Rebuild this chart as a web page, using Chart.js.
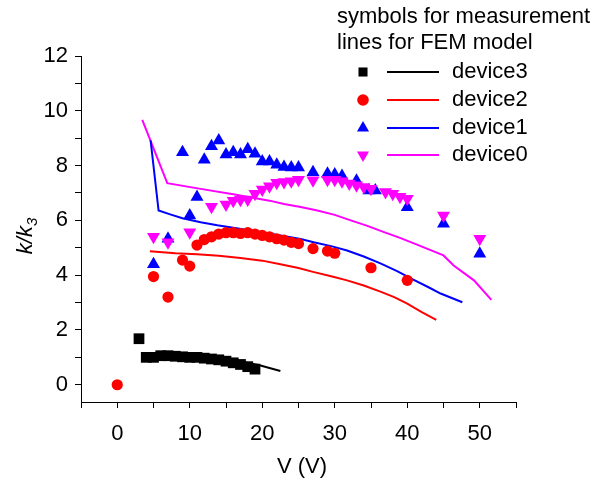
<!DOCTYPE html>
<html>
<head>
<meta charset="utf-8">
<script src="https://cdn.jsdelivr.net/npm/chart.js@4/dist/chart.umd.min.js"></script>
<style>
	html, body { margin: 0; padding: 0; background: #fff; }
	#wrap { width: 600px; height: 482px; }
</style>
</head>
<body>
<div id="wrap"><canvas id="kChart" width="600" height="482"></canvas></div>
<script>
	'use strict'

	// measurement (symbols)
	const device3MeasV = [3, 4, 5, 6, 7, 8, 9, 10, 11, 12, 13, 14, 15, 16, 17, 18, 19];
	const device3MeasK = [1.68, 1.0, 1.0, 1.06, 1.06, 1.04, 1.02, 1.0, 1.0, 0.97, 0.94, 0.91, 0.86, 0.8, 0.74, 0.66, 0.57];

	const device2MeasV = [0, 5, 7, 9, 10, 11, 12, 13, 14, 15, 16, 17, 18, 19, 20, 21, 22, 23, 24, 25, 27, 29, 30, 35, 40];
	const device2MeasK = [0, 3.95, 3.2, 4.55, 4.33, 5.1, 5.3, 5.4, 5.5, 5.55, 5.55, 5.52, 5.55, 5.5, 5.45, 5.4, 5.33, 5.28, 5.2, 5.15, 4.97, 4.88, 4.8, 4.27, 3.81];

	const device1MeasV = [5, 7, 9, 10, 11, 12, 13, 14, 15, 16, 17, 18, 19, 20, 21, 22, 23, 24, 25, 27, 29, 30, 31, 33, 34.7, 35.6, 40, 45, 50];
	const device1MeasK = [4.4, 5.33, 8.49, 6.18, 6.85, 8.21, 8.71, 8.92, 8.4, 8.49, 8.4, 8.6, 8.43, 8.15, 8.15, 8.03, 7.95, 7.93, 7.93, 7.76, 7.7, 7.67, 7.62, 7.45, 7.09, 7.09, 6.48, 5.88, 4.78];

	const device0MeasV = [5, 7, 10, 13, 15, 16, 17, 18, 19, 20, 21, 22, 23, 24, 25, 27, 29, 30, 31, 32, 33, 34, 35, 37, 38, 39, 40, 45, 50];
	const device0MeasK = [5.4, 5.2, 5.57, 6.5, 6.58, 6.72, 6.75, 6.76, 6.97, 7.13, 7.25, 7.37, 7.4, 7.43, 7.48, 7.46, 7.48, 7.48, 7.43, 7.35, 7.28, 7.22, 7.15, 7.04, 6.97, 6.86, 6.79, 6.18, 5.33];

	// FEM model (lines)
	const device3FemV = [5, 8, 11, 14, 17, 19.5, 22.5];
	const device3FemK = [1.0, 1.05, 1.02, 0.95, 0.85, 0.72, 0.5];

	const device2FemV = [4.5, 8, 11, 14, 17, 20, 22.5, 25, 27, 29.5, 31.7, 34, 36.3, 38.2, 40, 42, 44];
	const device2FemK = [4.87, 4.8, 4.76, 4.71, 4.63, 4.53, 4.4, 4.26, 4.12, 3.96, 3.81, 3.62, 3.4, 3.2, 2.96, 2.65, 2.37];

	const device1FemV = [4.6, 5.7, 7.3, 9, 11.5, 13.8, 18.4, 22.5, 25.3, 27.1, 29.5, 31.7, 34, 36.3, 38.6, 40.9, 43, 44.6, 47.6];
	const device1FemK = [8.92, 6.36, 6.22, 6.08, 5.93, 5.82, 5.63, 5.45, 5.32, 5.2, 5.06, 4.9, 4.68, 4.43, 4.15, 3.83, 3.55, 3.33, 3.01];

	const device0FemV = [3.45, 6.9, 11.5, 16, 21, 23, 25.3, 27.6, 30, 32.2, 34.5, 36.8, 39, 41, 45, 46.4, 49.2, 51.6];
	const device0FemK = [9.67, 7.36, 7.15, 6.95, 6.72, 6.6, 6.49, 6.36, 6.2, 6.0, 5.8, 5.57, 5.36, 5.15, 4.72, 4.35, 3.81, 3.1];

	const xTickLabels = [0, 10, 20, 30, 40, 50];
	const yTickLabels = [0, 2, 4, 6, 8, 10, 12];

	const legendTitles = ['symbols for measurement', 'lines for FEM model'];
	const legendNames = ['device3', 'device2', 'device1', 'device0'];
	const deviceColors = ['#000000', '#ff0000', '#0000ff', '#ff00ff'];
	const deviceStyles = ['rect', 'circle', 'triangle', 'triangle'];
	const deviceRotations = [0, 0, 0, 180];

	const fontFamily = '"Liberation Sans", Arial, Helvetica, sans-serif';

	function toPoints(xs, ys) {
		return xs.map((x, i) => ({ x: x, y: ys[i] }));
	}

	const measSets = [
		toPoints(device3MeasV, device3MeasK),
		toPoints(device2MeasV, device2MeasK),
		toPoints(device1MeasV, device1MeasK),
		toPoints(device0MeasV, device0MeasK)
	];
	const femSets = [
		toPoints(device3FemV, device3FemK),
		toPoints(device2FemV, device2FemK),
		toPoints(device1FemV, device1FemK),
		toPoints(device0FemV, device0FemK)
	];
	const markerRadius = [7.6, 5.6, 7.5, 7.5];

	const datasets = [];
	femSets.forEach((points, i) => {
		datasets.push({
			label: legendNames[i] + ' FEM',
			data: points,
			showLine: true,
			borderColor: deviceColors[i],
			borderWidth: 2,
			pointRadius: 0,
			tension: 0,
			order: 10 + i
		});
	});
	measSets.forEach((points, i) => {
		datasets.push({
			label: legendNames[i],
			data: points,
			showLine: false,
			pointStyle: deviceStyles[i],
			rotation: deviceRotations[i],
			pointRadius: markerRadius[i],
			pointBackgroundColor: deviceColors[i],
			pointBorderColor: deviceColors[i],
			pointBorderWidth: 0,
			order: 3 - i
		});
	});

	const decorPlugin = {
		id: 'decor',
		afterDraw(chart) {
			const ctx = chart.ctx;
			ctx.save();
			ctx.fillStyle = '#000';

			// x title
			ctx.font = '22px ' + fontFamily;
			ctx.textAlign = 'center';
			ctx.textBaseline = 'middle';
			ctx.fillText('V (V)', 302, 467);

			// y title k/k3 (rotated, subscript)
			ctx.save();
			ctx.translate(24, 236);
			ctx.rotate(-Math.PI / 2);
			ctx.font = 'italic 22px ' + fontFamily;
			const mainW = ctx.measureText('k/k').width;
			ctx.font = 'italic 15px ' + fontFamily;
			const subW = ctx.measureText('3').width;
			const startX = -(mainW + subW) / 2;
			ctx.textAlign = 'left';
			ctx.textBaseline = 'alphabetic';
			ctx.font = 'italic 22px ' + fontFamily;
			ctx.fillText('k/k', startX, 8);
			ctx.font = 'italic 15px ' + fontFamily;
			ctx.fillText('3', startX + mainW, 13);
			ctx.restore();

			// legend
			ctx.font = '22px ' + fontFamily;
			ctx.textAlign = 'left';
			ctx.textBaseline = 'middle';
			ctx.fillText(legendTitles[0], 337, 17);
			ctx.fillText(legendTitles[1], 337, 43);
			const rowY = [72, 100, 128, 155];
			const legendRadius = [6.4, 5.8, 7, 7];
			legendNames.forEach((name, i) => {
				ctx.fillStyle = deviceColors[i];
				ctx.strokeStyle = deviceColors[i];
				Chart.helpers.drawPoint(ctx, {
					pointStyle: deviceStyles[i],
					radius: legendRadius[i],
					rotation: deviceRotations[i],
					borderWidth: 0
				}, 363, rowY[i]);
				ctx.lineWidth = 2;
				ctx.beginPath();
				ctx.moveTo(387, rowY[i]);
				ctx.lineTo(439, rowY[i]);
				ctx.stroke();
				ctx.fillStyle = '#000';
				ctx.fillText(name, 452, rowY[i]);
			});
			ctx.restore();
		}
	};

	new Chart(document.getElementById('kChart'), {
		type: 'scatter',
		data: { datasets: datasets },
		plugins: [decorPlugin],
		options: {
			responsive: false,
			animation: false,
			devicePixelRatio: 1,
			layout: {
				padding: { top: 56, right: 84, left: 0, bottom: 0 }
			},
			plugins: {
				legend: { display: false },
				tooltip: { enabled: false }
			},
			scales: {
				x: {
					type: 'linear',
					min: -5,
					max: 55,
					afterFit: function(scale) { scale.height = 80; },
					border: { display: true, color: '#000', width: 1 },
					grid: {
						display: true,
						drawOnChartArea: false,
						drawTicks: true,
						tickLength: 6,
						tickColor: '#000',
						color: '#000'
					},
					ticks: {
						stepSize: 5,
						autoSkip: false,
						maxRotation: 0,
						padding: 13,
						color: '#000',
						font: { size: 22, family: fontFamily },
						callback: function(value) {
							return xTickLabels.includes(value) ? String(value) : '';
						}
					}
				},
				y: {
					type: 'linear',
					min: -0.63,
					max: 12,
					afterFit: function(scale) { scale.width = 81; },
					border: { display: true, color: '#000', width: 1 },
					grid: {
						display: true,
						drawOnChartArea: false,
						drawTicks: true,
						tickLength: 6,
						tickColor: '#000',
						color: '#000'
					},
					ticks: {
						stepSize: 1,
						includeBounds: false,
						autoSkip: false,
						padding: 7,
						color: '#000',
						font: { size: 22, family: fontFamily },
						callback: function(value) {
							return yTickLabels.includes(value) ? String(value) : '';
						}
					}
				}
			}
		}
	});
</script>
</body>
</html>
